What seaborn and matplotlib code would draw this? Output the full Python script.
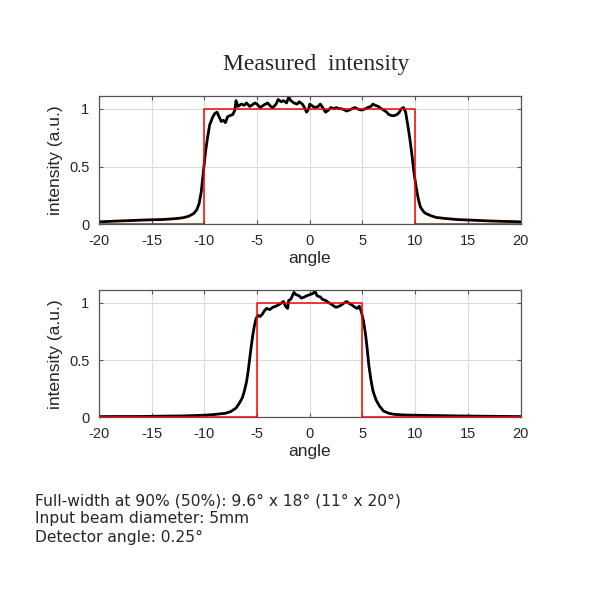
import matplotlib
matplotlib.use('Agg')
import matplotlib.pyplot as plt
import seaborn as sns

# Measured profile, wide beam (top panel)
angle_top = [-20, -19, -18, -17, -16, -15, -14, -13, -12.5, -12, -11.5, -11, -10.7, -10.5,
             -10.3, -10.1, -9.9, -9.7, -9.5, -9.2, -9.0, -8.8, -8.6, -8.4, -8.2, -8.0,
             -7.8, -7.6, -7.3, -7.1, -7.0, -6.8, -6.5, -6.2, -6.0, -5.7, -5.5, -5.2, -5.0,
             -4.7, -4.4, -4.0, -3.7, -3.5, -3.2, -3.0, -2.7, -2.5, -2.2, -2.0, -1.8, -1.5,
             -1.2, -1.0, -0.7, -0.5, -0.3, -0.1, 0.0, 0.3, 0.5, 0.8, 1.0, 1.3, 1.5, 1.8,
             2.0, 2.3, 2.5, 2.8, 3.0, 3.3, 3.5, 3.8, 4.0, 4.3, 4.5, 4.8, 5.0, 5.3, 5.5,
             5.8, 6.0, 6.2, 6.5, 6.8, 7.0, 7.3, 7.5, 7.8, 8.0, 8.3, 8.5, 8.7, 8.9, 9.1,
             9.3, 9.5, 9.7, 9.9, 10.1, 10.3, 10.5, 10.8, 11.0, 11.5, 12.0, 12.5, 13.0,
             14.0, 15.0, 16.0, 17.0, 18.0, 19.0, 20.0]
intensity_top = [0.022, 0.026, 0.030, 0.033, 0.037, 0.040, 0.042, 0.048, 0.052, 0.058, 0.070, 0.095, 0.13, 0.18,
                 0.28, 0.45, 0.62, 0.75, 0.86, 0.93, 0.96, 0.97, 0.93, 0.89, 0.90, 0.88,
                 0.93, 0.94, 0.95, 0.99, 1.07, 1.02, 1.04, 1.03, 1.05, 1.02, 1.03, 1.05, 1.04,
                 1.01, 1.03, 1.05, 1.02, 1.01, 1.04, 1.08, 1.06, 1.07, 1.05, 1.10, 1.07, 1.05,
                 1.04, 1.06, 1.04, 1.01, 0.97, 1.00, 1.04, 1.02, 1.01, 1.02, 1.04, 1.00, 0.97, 0.99,
                 1.01, 1.00, 1.01, 1.00, 1.00, 0.99, 0.98, 0.99, 1.00, 1.01, 1.00, 0.99, 0.99, 1.00, 1.01,
                 1.02, 1.04, 1.03, 1.02, 1.00, 0.99, 0.97, 0.95, 0.94, 0.94, 0.95, 0.97, 1.00, 1.01, 0.97,
                 0.86, 0.74, 0.60, 0.44, 0.32, 0.22, 0.15, 0.11, 0.095, 0.075, 0.060, 0.055, 0.050,
                 0.042, 0.038, 0.034, 0.030, 0.027, 0.025, 0.022]

# Measured profile, narrow beam (bottom panel)
angle_bot = [-20, -18, -16, -14, -12, -10, -9, -8, -7.5, -7.0, -6.7, -6.4, -6.2, -6.0, -5.85,
             -5.7, -5.55, -5.4, -5.25, -5.1, -4.9, -4.7, -4.5, -4.3, -4.1, -3.8, -3.5, -3.2,
             -3.0, -2.8, -2.5, -2.3, -2.1, -2.0, -1.8, -1.5, -1.3, -1.0, -0.8, -0.5, -0.3,
             0.0, 0.3, 0.5, 0.7, 1.0, 1.2, 1.5, 1.8, 2.0, 2.3, 2.5, 2.8, 3.0, 3.3, 3.5, 3.8,
             4.0, 4.3, 4.5, 4.7, 4.9, 5.1, 5.3, 5.45, 5.6, 5.8, 6.0, 6.3, 6.6, 7.0, 7.5, 8.0,
             9.0, 10.0, 12.0, 14.0, 16.0, 18.0, 20.0]
intensity_bot = [0.006, 0.007, 0.007, 0.010, 0.012, 0.018, 0.025, 0.035, 0.050, 0.08, 0.12, 0.17, 0.23, 0.31, 0.40,
                 0.51, 0.62, 0.72, 0.80, 0.86, 0.89, 0.88, 0.90, 0.93, 0.95, 0.94, 0.96, 0.97,
                 0.98, 0.99, 1.01, 0.97, 0.95, 1.02, 1.03, 1.09, 1.07, 1.06, 1.04, 1.05, 1.06,
                 1.07, 1.08, 1.10, 1.06, 1.05, 1.03, 1.02, 1.00, 0.99, 0.97, 0.96, 0.97, 0.98, 1.00, 1.01, 0.99,
                 0.98, 0.96, 0.95, 0.97, 0.92, 0.84, 0.72, 0.60, 0.46, 0.33, 0.23, 0.15, 0.10, 0.055, 0.035, 0.026,
                 0.020, 0.018, 0.015, 0.012, 0.010, 0.008, 0.006]

# Ideal top-hat profiles (red)
ideal_top_x = [-20, -10, -10, 10, 10, 20]
ideal_top_y = [0, 0, 1, 1, 0, 0]
ideal_bot_x = [-20, -5, -5, 5, 5, 20]
ideal_bot_y = [0, 0, 1, 1, 0, 0]

notes = ['Full-width at 90% (50%): 9.6° x 18° (11° x 20°)',
         'Input beam diameter: 5mm',
         'Detector angle: 0.25°']

sns.set_style('white')
plt.rcParams['font.family'] = ['Liberation Sans', 'DejaVu Sans']
plt.rcParams['axes.unicode_minus'] = False

fig = plt.figure(figsize=(6, 6), dpi=100)
ax1 = fig.add_axes([0.165, 0.626, 0.7025, 0.214])
ax2 = fig.add_axes([0.165, 0.3045, 0.7025, 0.212])

panels = [(ax1, angle_top, intensity_top, ideal_top_x, ideal_top_y),
          (ax2, angle_bot, intensity_bot, ideal_bot_x, ideal_bot_y)]

for ax, x, y, ix, iy in panels:
    sns.lineplot(x=x, y=y, ax=ax, color='black', linewidth=2, sort=False, estimator=None)
    sns.lineplot(x=ix, y=iy, ax=ax, color='red', linewidth=1.1, sort=False, estimator=None)
    ax.set_xlim(-20, 20)
    ax.set_ylim(0, 1.11)
    ax.set_xticks(range(-20, 21, 5))
    ax.set_yticks([0, 0.5, 1])
    ax.set_yticklabels(['0', '0.5', '1'])
    ax.grid(True, color='#dcdcdc', linewidth=0.8)
    ax.set_axisbelow(True)
    ax.tick_params(direction='in', length=3, width=0.8, color='#555555', labelsize=10.5,
                   labelcolor='#262626', top=True, right=True, bottom=True, left=True, pad=7)
    for s in ax.spines.values():
        s.set_color('#555555')
        s.set_linewidth(0.9)
    ax.set_xlabel('angle', fontsize=12.5, labelpad=2, color='#262626')
    ax.set_ylabel('intensity (a.u.)', fontsize=12.5, labelpad=4, color='#262626')

fig.text(0.527, 0.892, 'Measured  intensity', ha='center', va='center',
         fontsize=17, family=['Liberation Serif', 'DejaVu Serif'])

for i, line in enumerate(notes):
    fig.text(0.058, 0.165 - i * 0.03, line, ha='left', va='center',
             fontsize=11.2, family=['DejaVu Sans'])

fig.savefig('out.png', dpi=100)
